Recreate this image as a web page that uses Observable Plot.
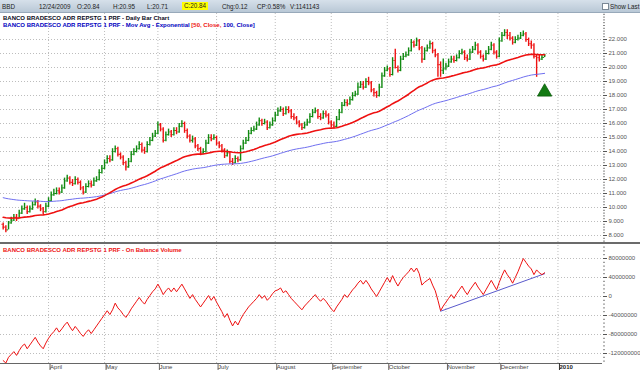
<!DOCTYPE html>
<html><head><meta charset="utf-8">
<script src="https://cdn.jsdelivr.net/npm/d3@7"></script>
<script src="https://cdn.jsdelivr.net/npm/@observablehq/plot@0.6"></script>
<style>
html,body{margin:0;padding:0;background:#fff;overflow:hidden;}
#wrap{position:relative;width:640px;height:373px;overflow:hidden;font-family:"Liberation Sans",Arial,sans-serif;}
#hdr{position:absolute;left:0;top:0;width:640px;height:12px;background:linear-gradient(#d6e0ea,#b9c8d6);border-bottom:1px solid #98a9ba;font-size:6.3px;color:#222;}
#hdr span{position:absolute;top:2.5px;white-space:nowrap;line-height:7px;}
#hdr .hl{background:#ffff00;padding:0 2px;top:2px;line-height:8px;}
#hdr .cb{position:absolute;left:602px;top:3px;width:5px;height:5px;border:1px solid #7a8896;background:#fff;}
.ttl{position:absolute;left:3px;font-size:6px;font-weight:bold;white-space:nowrap;line-height:7px;z-index:3;}
.pane{position:absolute;left:0;}
#sep{position:absolute;left:0;top:242px;width:640px;height:2px;background:#6b6b6b;}
</style></head>
<body><div id="wrap">
<div id="hdr"></div>
<div class="pane" id="p1" style="top:13px"></div>
<div class="pane" id="p2" style="top:243px"></div>
<div id="sep"></div>
<div class="ttl" id="t1" style="top:14.5px;color:#0a0a1a"></div>
<div class="ttl" id="t2" style="top:22px;color:#0000c0"></div>
<div class="ttl" id="t3" style="top:246.5px;color:#ee1111"></div>
</div>
<script>
// ---------------- data ----------------
const ticker = "BBD";
const quoteDate = "12/24/2009";
const quoteOpen = "20.84", quoteHigh = "20.95", quoteLow = "20.71", quoteClose = "20.84";
const quoteChg = "0.12", quoteCP = "0.58%", quoteVol = "1141143";
const seriesName = "BANCO BRADESCO ADR REPSTG 1 PRF";
const startDate = "2009-03-09";
const endAxisDate = "2010-01-29";
const holidays = ["2009-04-10","2009-05-25","2009-07-03","2009-09-07","2009-11-26","2009-12-25","2010-01-01","2010-01-18"];
const monthNames = ["January","February","March","April","May","June","July","August","September","October","November","December"];

const firstBarOpen = 8.8;
const closes = [8.6,8.4,8.9,9.1,9.3,9.2,9.6,9.9,10.0,9.7,
9.9,10.2,10.4,10.1,9.9,9.7,10.1,10.5,10.9,11.0,
11.2,11.1,11.4,11.9,12.1,11.8,11.7,12.0,11.8,11.4,
11.1,11.5,11.7,11.6,11.9,12.0,12.5,12.8,13.2,13.5,
13.4,14.0,14.2,13.8,13.6,13.2,12.9,13.3,13.8,14.0,
14.2,14.5,14.1,14.0,14.5,14.8,15.1,15.3,15.9,15.6,
14.8,15.2,15.4,15.2,15.5,15.4,15.8,16.0,15.5,15.1,
14.8,14.9,14.4,14.2,13.9,14.0,14.6,15.0,14.9,15.0,
14.6,14.4,14.1,13.7,13.9,13.3,13.2,13.5,13.4,14.2,
14.6,14.8,15.3,15.5,15.6,15.9,16.2,16.0,16.1,15.7,
15.9,16.2,16.6,16.9,17.0,16.7,17.0,16.9,16.5,16.4,
16.1,15.9,15.7,15.9,16.1,16.5,16.8,16.9,16.5,16.4,
16.7,16.6,16.1,15.9,15.8,16.3,16.8,17.3,17.5,17.4,
17.7,18.0,18.1,18.6,18.8,18.6,19.0,18.9,18.4,18.2,
18.0,18.6,19.4,19.8,19.9,19.5,20.5,20.0,19.8,20.6,
20.8,20.9,21.2,21.8,21.6,21.9,21.4,20.6,21.2,21.4,
21.7,21.2,20.9,20.2,19.8,19.9,20.1,20.4,20.6,20.5,
20.7,21.0,21.1,20.7,20.6,21.1,21.3,21.6,21.1,20.8,
20.6,21.0,21.3,21.6,21.1,20.8,21.9,22.3,22.5,22.3,
22.1,21.8,22.0,22.1,22.3,22.4,22.0,21.7,21.6,20.8,
20.7,20.6,20.72,20.84];
const highs = [8.9,8.7,9.0,9.3,9.5,9.5,9.8,10.1,10.3,10.1,
10.1,10.4,10.6,10.5,10.2,10.0,10.3,10.7,11.1,11.3,
11.4,11.4,11.6,12.1,12.3,12.2,12.0,12.2,12.1,11.9,
11.5,11.7,11.9,11.9,12.1,12.2,12.7,13.0,13.4,13.7,
13.7,14.2,14.4,14.3,13.9,13.7,13.3,13.5,14.0,14.2,
14.4,14.7,14.6,14.3,14.7,15.0,15.3,15.5,16.1,16.0,
15.7,15.4,15.6,15.5,15.7,15.7,16.0,16.2,16.1,15.6,
15.2,15.1,15.0,14.5,14.3,14.2,14.8,15.2,15.2,15.2,
15.1,14.7,14.5,14.2,14.1,14.0,13.5,13.7,13.6,14.4,
14.8,15.0,15.5,15.7,15.8,16.1,16.4,16.3,16.3,16.2,
16.1,16.4,16.8,17.1,17.2,17.1,17.2,17.2,17.0,16.7,
16.5,16.2,16.0,16.1,16.3,16.7,17.0,17.1,17.0,16.7,
16.9,16.9,16.7,16.2,16.1,16.5,17.0,17.5,17.7,17.7,
17.9,18.2,18.3,18.9,19.0,19.0,19.2,19.3,19.0,18.5,
18.3,18.8,19.6,20.0,20.1,20.0,20.7,21.3,20.1,20.8,
21.0,21.1,21.4,22.0,21.9,22.1,22.0,21.5,21.4,21.6,
21.9,21.8,21.3,21.0,20.4,20.6,20.3,20.6,20.8,20.8,
20.9,21.2,21.3,21.2,20.9,21.3,21.5,21.8,21.7,21.2,
20.9,21.2,21.5,21.8,21.7,21.2,22.1,22.5,22.7,22.7,
22.5,22.2,22.2,22.3,22.5,22.6,22.5,22.1,21.9,21.7,
20.9,20.9,20.9,20.95];
const lows = [8.4,8.2,8.4,8.8,9.0,9.0,9.2,9.5,9.8,9.5,
9.6,9.8,10.1,9.9,9.7,9.5,9.6,10.0,10.4,10.8,
10.9,10.9,11.0,11.3,11.8,11.6,11.5,11.6,11.6,11.2,
10.9,11.0,11.4,11.4,11.5,11.8,11.9,12.4,12.7,13.1,
13.2,13.3,13.9,13.6,13.4,13.0,12.6,12.8,13.2,13.7,
13.9,14.1,13.9,13.8,13.9,14.4,14.7,15.0,15.2,15.4,
14.6,14.7,15.1,15.0,15.1,15.2,15.3,15.7,15.3,14.9,
14.6,14.6,14.2,14.0,13.7,13.8,13.9,14.5,14.7,14.8,
14.4,14.2,13.9,13.5,13.6,13.1,13.0,13.1,13.2,13.3,
14.1,14.5,14.7,15.2,15.4,15.5,15.8,15.8,15.9,15.5,
15.6,15.8,16.1,16.5,16.8,16.5,16.6,16.7,16.3,16.2,
15.9,15.7,15.5,15.6,15.8,16.0,16.4,16.7,16.3,16.2,
16.3,16.4,15.9,15.7,15.6,15.7,16.2,16.7,17.2,17.2,
17.3,17.6,17.9,18.0,18.5,18.4,18.5,18.7,18.2,17.9,
17.8,17.9,18.5,19.3,19.7,19.3,19.4,19.9,19.6,19.7,
20.5,20.7,20.8,21.1,21.4,21.5,21.2,20.3,20.5,21.1,
21.3,21.0,20.7,19.3,19.3,19.5,19.8,20.0,20.3,20.3,
20.4,20.6,20.9,20.5,20.4,20.5,21.0,21.2,20.9,20.6,
20.4,20.5,20.9,21.2,20.9,20.6,20.7,21.8,22.2,22.0,
21.9,21.6,21.7,21.9,22.0,22.2,21.8,21.5,21.3,20.6,
19.3,20.4,20.5,20.71];
// On Balance Volume, millions of shares
const obvMillions = [-135,-140,-128,-122,-116,-124,-114,-105,-100,-110,
-102,-94,-86,-96,-104,-110,-98,-88,-80,-74,
-66,-75,-68,-60,-54,-64,-72,-63,-70,-78,
-84,-76,-70,-78,-70,-62,-54,-46,-38,-30,
-38,-28,-14,-24,-30,-38,-44,-36,-26,-18,
-10,-2,-10,-16,-6,2,10,16,26,16,
4,12,18,10,18,10,18,26,16,6,
-4,4,-6,-14,-22,-14,-6,2,-8,0,
-12,-22,-32,-44,-36,-50,-62,-52,-60,-48,
-38,-30,-22,-16,-10,-4,4,-4,2,-8,
-2,6,12,14,18,8,12,4,-4,-10,
-16,-22,-28,-20,-14,-8,-2,4,-4,-10,
-4,-10,-18,-26,-32,-22,-14,-6,4,-2,
6,14,20,28,34,26,34,26,16,8,
0,10,20,30,40,30,44,32,22,32,
40,46,52,60,52,60,48,24,30,34,
38,24,12,-8,-30,-20,-12,-4,4,-4,
6,14,22,12,4,14,22,30,20,12,
4,14,24,34,24,14,30,44,56,46,
38,28,40,52,66,80,72,64,58,46,
56,50,46,50];
const obvTrendStart = {bar: 164, value: -31};
const obvTrendEnd = {bar: 203, value: 48};
const ema50Seed = 9.3, ema100Seed = 10.7;
const signalBar = 203, signalPrice = 18.25;
const priceTicks = [8,9,10,11,12,13,14,15,16,17,18,19,20,21,22];
const obvTicks = [-120,-80,-40,0,40,80];

// ---------------- derived ----------------
const GREEN = "#118a11", RED = "#ee1111";
function tradingDays(s, e, hol){
  const h = new Set(hol), out = [];
  const end = new Date(e + "T00:00:00Z");
  for (let d = new Date(s + "T00:00:00Z"); d <= end; d.setUTCDate(d.getUTCDate()+1)){
    const w = d.getUTCDay(), iso = d.toISOString().slice(0,10);
    if (w === 0 || w === 6 || h.has(iso)) continue;
    out.push(new Date(d));
  }
  return out;
}
const days = tradingDays(startDate, endAxisDate, holidays);
const monthTicks = [];
for (let i = 1; i < days.length; i++){
  if (days[i].getUTCMonth() !== days[i-1].getUTCMonth()){
    const m = days[i].getUTCMonth();
    monthTicks.push({k: i, label: m === 0 ? String(days[i].getUTCFullYear()) : monthNames[m], year: m === 0});
  }
}
const labelByK = new Map(monthTicks.map(d => [d.k, d.label]));
const bars = closes.map((c, k) => {
  const o = k === 0 ? firstBarOpen : closes[k-1];
  return {k, open: o, high: highs[k], low: lows[k], close: c, up: c > o};
});
function ema(vals, n, seed){
  const a = 2/(n+1); let e = seed;
  return vals.map((v, k) => (e = k === 0 ? seed : e + a*(v - e)));
}
const e50 = ema(closes, 50, ema50Seed), e100 = ema(closes, 100, ema100Seed);
const emaRows = closes.map((c, k) => ({k, e50: e50[k], e100: e100[k]}));
const obvRows = obvMillions.map((v, k) => ({k, v}));
const trend = [{k: obvTrendStart.bar, v: obvTrendStart.value}, {k: obvTrendEnd.bar, v: obvTrendEnd.value}];
const minorPrice = d3.range(7.6, 23.8, 0.2).map(v => +v.toFixed(1));
const minorObv = d3.range(-136, 108, 8);

const xDomain = [-1.012, 224.7];
const yDom1 = [22 - 204/14, 22 + 26/14];
const yDom2 = [-67/0.475, 51/0.475];
const font = "font-family:'Liberation Sans',Arial,sans-serif;font-size:6px;overflow:visible;background:transparent;";
const gridStyle = {stroke: "#bdbdbd", strokeOpacity: 1, strokeDasharray: "1,2", strokeWidth: 1};

const p1 = Plot.plot({
  width: 640, height: 230, marginTop: 0, marginBottom: 0, marginLeft: 0, marginRight: 38,
  x: {domain: xDomain, axis: null},
  y: {domain: yDom1, axis: null},
  style: font,
  marks: [
    Plot.ruleY(priceTicks, {y: d => d, ...gridStyle}),
    Plot.ruleX(monthTicks, {x: "k", ...gridStyle}),
    Plot.ruleX(bars, {x: "k", y1: "low", y2: "high", stroke: d => d.up ? GREEN : RED, strokeWidth: 1.4}),
    Plot.ruleY(bars, {y: "open", x1: d => d.k - 0.45, x2: "k", stroke: d => d.up ? GREEN : RED, strokeWidth: 1}),
    Plot.ruleY(bars, {y: "close", x1: "k", x2: d => d.k + 0.45, stroke: d => d.up ? GREEN : RED, strokeWidth: 1}),
    Plot.line(emaRows, {x: "k", y: "e100", stroke: "#6f6ff0", strokeWidth: 1}),
    Plot.line(emaRows, {x: "k", y: "e50", stroke: "#ee1111", strokeWidth: 1.6}),
    Plot.dot([{k: signalBar, p: signalPrice}], {x: "k", y: "p", symbol: "triangle", r: 5.3, fill: "#137a13", stroke: "#0b5e0b", strokeWidth: 0.8}),
    Plot.axisY(minorPrice, {anchor: "right", label: null, tickSize: 2, tickFormat: () => "", stroke: "#888"}),
    Plot.axisY(priceTicks, {anchor: "right", label: null, tickSize: 4, tickPadding: 2, tickFormat: d => d.toFixed(3), stroke: "#555", fill: "#555"})
  ]
});
document.getElementById("p1").append(p1);

const p2 = Plot.plot({
  width: 640, height: 130, marginTop: 2, marginBottom: 10, marginLeft: 0, marginRight: 38,
  x: {domain: xDomain},
  y: {domain: yDom2, axis: null},
  style: font,
  marks: [
    Plot.ruleY(obvTicks, {y: d => d, ...gridStyle}),
    Plot.ruleX(monthTicks, {x: "k", ...gridStyle}),
    Plot.line(trend, {x: "k", y: "v", stroke: "#5a5acc", strokeWidth: 1}),
    Plot.line(obvRows, {x: "k", y: "v", stroke: RED, strokeWidth: 1}),
    Plot.ruleY([yDom2[0]], {stroke: "#666", strokeWidth: 1}),
    Plot.axisY(minorObv, {anchor: "right", label: null, tickSize: 2, tickFormat: () => "", stroke: "#888"}),
    Plot.axisY(obvTicks, {anchor: "right", label: null, tickSize: 4, tickPadding: 2, tickFormat: d => String(Math.round(d*1e6)), stroke: "#555", fill: "#555"}),
    Plot.axisX(monthTicks.filter(d => !d.year).map(d => d.k), {anchor: "bottom", label: null, tickSize: 7, tickPadding: -6, textAnchor: "start", dx: 1.5, tickFormat: k => labelByK.get(k), stroke: "#666", fill: "#444"}),
    Plot.axisX(monthTicks.filter(d => d.year).map(d => d.k), {anchor: "bottom", label: null, tickSize: 7, tickPadding: -6, textAnchor: "start", dx: 1.5, fontWeight: "bold", tickFormat: k => labelByK.get(k), stroke: "#333", fill: "#222"})
  ]
});
document.getElementById("p2").append(p2);

// header & titles
const hdr = document.getElementById("hdr");
const items = [[ticker,2],[quoteDate,39],["O:"+quoteOpen,77],["H:"+quoteHigh,113],["L:"+quoteLow,147],["C:"+quoteClose,182,"hl"],["Chg:"+quoteChg,222],["CP:"+quoteCP,257],["V:"+quoteVol,290],["Show Last",610]];
for (const [t, x, c] of items){ const s = document.createElement("span"); s.textContent = t; s.style.left = x + "px"; if (c) s.className = c; hdr.append(s); }
const cb = document.createElement("div"); cb.className = "cb"; hdr.append(cb);
document.getElementById("t1").textContent = seriesName + " - Daily Bar Chart";
document.getElementById("t2").innerHTML = seriesName + " - Mov Avg - Exponential <span style='color:#ee1111'>[50, Close,</span> 100, Close]";
document.getElementById("t3").textContent = seriesName + " - On Balance Volume";
</script>
</body></html>
